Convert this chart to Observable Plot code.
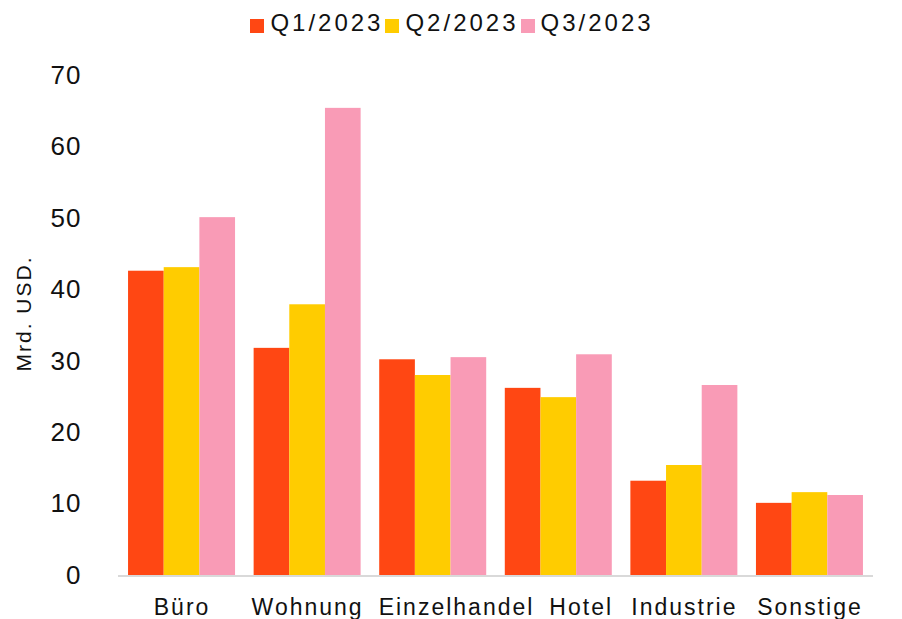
<!DOCTYPE html>
<html><head><meta charset="utf-8">
<script src="https://cdn.jsdelivr.net/npm/d3@7"></script>
<script src="https://cdn.jsdelivr.net/npm/@observablehq/plot@0.6"></script>
<style>
body{margin:0;background:#fff;font-family:"Liberation Sans",Arial,sans-serif;}
#legend{height:45px;display:flex;justify-content:center;align-items:center;font-size:24px;letter-spacing:3px;color:#111;padding-left:4px;box-sizing:border-box}
.item{display:flex;align-items:center;margin:0 2px 0 0}
.sw{width:14px;height:14px;margin-right:6px;position:relative;top:3px}
svg g[aria-label="y-axis tick label"] text{font-size:26px;letter-spacing:1px}
svg g[aria-label="fx-axis tick label"] text{font-size:23px;letter-spacing:2px}
svg g[aria-label="y-axis label"] text{font-size:21px;letter-spacing:2px}
</style></head><body>
<div id="legend"></div>
<div id="chart"></div>
<script>
const categories = ["Büro","Wohnung","Einzelhandel","Hotel","Industrie","Sonstige"];
const quarters = ["Q1/2023","Q2/2023","Q3/2023"];
const q1 = [42.6,31.8,30.2,26.2,13.2,10.1];
const q2 = [43.1,37.9,28.0,24.9,15.4,11.6];
const q3 = [50.1,65.4,30.5,30.9,26.6,11.2];
const colors = ["#FF4713","#FFCC00","#F99BB6"];
const yTicks = [0,10,20,30,40,50,60,70];
const yLabel = "Mrd. USD.";

const series = [q1,q2,q3];
const data = [];
categories.forEach((c,i)=>quarters.forEach((q,j)=>data.push({cat:c,q:q,v:series[j][i]})));

const legend = document.getElementById("legend");
quarters.forEach((q,j)=>{
  const it=document.createElement("div");it.className="item";
  const sw=document.createElement("div");sw.className="sw";sw.style.background=colors[j];
  const t=document.createElement("span");t.textContent=q;
  it.appendChild(sw);it.appendChild(t);legend.appendChild(it);
});

const W=902,H=574,mL=118,mR=29,mT=30,mB=44;
const plot = Plot.plot({
  width:W,height:H,marginLeft:mL,marginRight:mR,marginTop:mT,marginBottom:mB,
  style:{fontSize:"22px",fontFamily:"'Liberation Sans',Arial,sans-serif",color:"#111",background:"#fff",overflow:"visible"},
  fx:{domain:categories,paddingInner:0.148,paddingOuter:0.08,round:false,axis:"bottom",tickSize:0,tickPadding:23,label:null},
  x:{domain:quarters,axis:null,padding:0,round:false},
  y:{domain:[0,70],ticks:yTicks,tickSize:0,tickPadding:47,label:yLabel,labelAnchor:"center",labelOffset:112,labelArrow:"none"},
  color:{domain:quarters,range:colors},
  marks:[
    Plot.barY(data,{fx:"cat",x:"q",y:"v",fill:"q",inset:0})
  ]
});
document.getElementById("chart").appendChild(plot);
d3.select(plot).select('g[aria-label="y-axis label"] text').attr("dx", 12);

// keep category labels from colliding: push each one right of its predecessor
const minGap = 15;
const labels = Array.from(plot.querySelectorAll('g[aria-label="fx-axis tick label"] text'))
  .sort((a,b)=>a.getBoundingClientRect().left-b.getBoundingClientRect().left);
let prevRight = -Infinity;
labels.forEach(t=>{
  const r = t.getBoundingClientRect();
  const shift = Math.max(0, prevRight + minGap - r.left);
  if (shift>0) t.setAttribute("dx", (parseFloat(t.getAttribute("dx"))||0) + shift);
  prevRight = r.right + shift;
});

const y0 = plot.scale("y").apply(0);
d3.select(plot).append("line")
  .attr("x1",mL).attr("x2",W-mR).attr("y1",y0+1).attr("y2",y0+1)
  .attr("stroke","#d9d9d9").attr("stroke-width",2);
</script>
</body></html>
